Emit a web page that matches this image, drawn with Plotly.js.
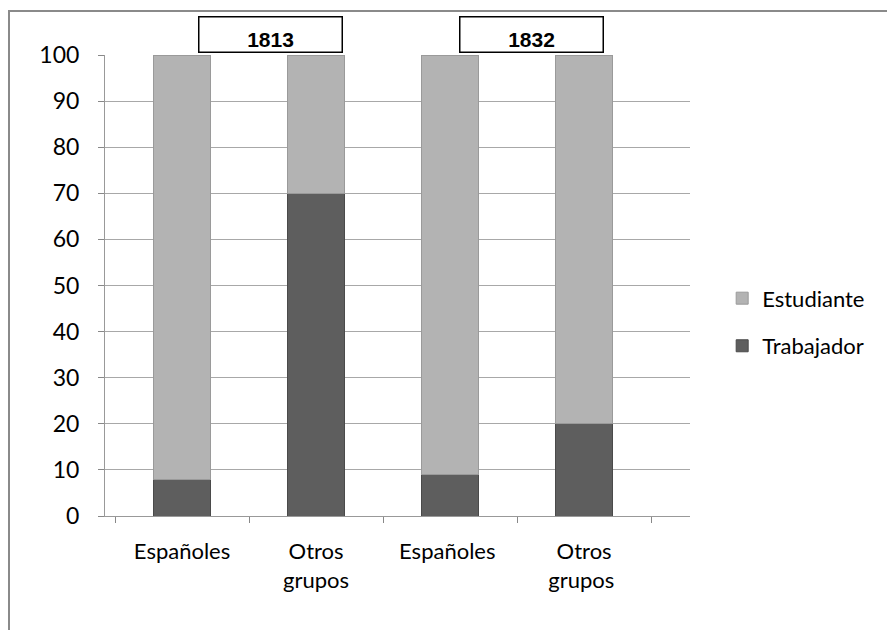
<!DOCTYPE html>
<html>
<head>
<meta charset="utf-8">
<script src="https://cdn.plot.ly/plotly-3.0.1.min.js"></script>
<style>
html,body{margin:0;padding:0;background:#fff;}
#wrap{position:relative;width:887px;height:630px;overflow:hidden;}
#chart{position:absolute;left:0;top:0;width:887px;height:630px;}
#frame{position:absolute;left:8px;top:10px;width:1000px;height:1000px;border-left:2px solid #8a8a8a;border-top:2px solid #8a8a8a;pointer-events:none;}
</style>
</head>
<body>
<div id="wrap"><div id="chart"></div><div id="frame"></div></div>
<script>
var categories = ["Españoles", "Otros<br>grupos", "Españoles ", "Otros<br>grupos "];
var trabajador = [8, 70, 9, 20];
var estudiante = [92, 30, 91, 80];
var years = ["1813", "1832"];
var yearPos = [0.657, 2.604];
var yTicks = [0, 10, 20, 30, 40, 50, 60, 70, 80, 90, 100];

var font = "Lato, 'Open Sans', sans-serif";
var traces = [
  {type: "bar", name: "Trabajador", x: categories, y: trabajador, width: 0.42,
   marker: {color: "#5e5e5e", line: {color: "#4a4a4a", width: 1}}, legendgroup: "b", legendrank: 2},
  {type: "bar", name: "Estudiante", x: categories, y: estudiante, width: 0.42,
   marker: {color: "#b3b3b3", line: {color: "#9a9a9a", width: 1}}, legendgroup: "a", legendrank: 1}
];
var annotations = years.map(function(t, i){
  return {text: "<b>" + t + "</b>", x: yearPos[i], xref: "x", y: 1.045, yref: "paper",
    yanchor: "middle", showarrow: false, width: 140, height: 32, valign: "bottom",
    bordercolor: "#000", borderwidth: 1.5, borderpad: 1, bgcolor: "#fff",
    font: {family: "'Liberation Sans Narrow', 'Liberation Sans', sans-serif", size: 21, color: "#000"}};
});
var layout = {
  width: 887, height: 630,
  margin: {l: 105, r: 197, t: 55, b: 114},
  paper_bgcolor: "#fff", plot_bgcolor: "#fff",
  barmode: "stack",
  font: {family: font, size: 22, color: "#000"},
  xaxis: {type: "category", range: [-0.575, 3.79], tickson: "boundaries", ticks: "outside",
    ticklen: 6, tickcolor: "#888", showline: true, linecolor: "#999", linewidth: 1,
    showgrid: false, tickfont: {size: 22, family: font}, ticklabelstandoff: 16, fixedrange: true},
  yaxis: {range: [0, 100], tickvals: yTicks, ticks: "outside", ticklen: 6, tickcolor: "#888",
    showline: true, linecolor: "#999", showgrid: true, gridcolor: "#a8a8a8", gridwidth: 1,
    zeroline: false, tickfont: {size: 23, family: font}, ticklabelstandoff: 14, fixedrange: true},
  legend: {x: 1.055, xanchor: "left", y: 0.42, yanchor: "middle", traceorder: "grouped",
    tracegroupgap: 16, font: {size: 22, family: font}, itemwidth: 30},
  showlegend: true,
  annotations: annotations
};
Plotly.newPlot("chart", traces, layout, {displayModeBar: false, staticPlot: true});
</script>
</body>
</html>
